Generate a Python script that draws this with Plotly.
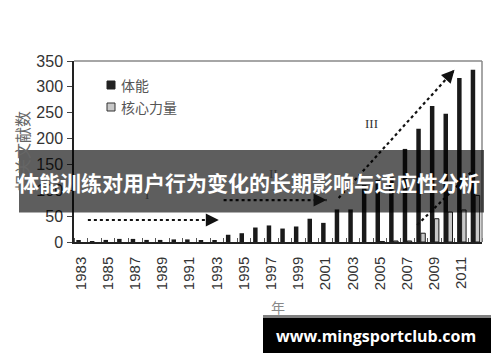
import plotly.graph_objects as go

# ---- data ----
years = list(range(1983, 2013))
tineng = [2, 1, 4, 6, 6, 4, 4, 5, 5, 3, 3, 14, 17, 28, 32, 26, 30, 45, 37, 63,
          63, 110, 120, 125, 180, 219, 263, 248, 317, 333]
hexin = [None] * 22 + [1, 2, 2, 17, 45, 58, 62, 90]
tick_years = list(range(1983, 2012, 2))
y_ticks = [0, 50, 100, 150, 200, 250, 300, 350]

# plot-area pixel geometry (for overlay placement)
L, R, T, B = 74, 482, 61, 242
W, H = R - L, B - T
def px(x):
    return (x - L) / W
def py(y):
    return (B - y) / H

fig = go.Figure()
fig.add_trace(go.Bar(x=years, y=tineng, name="体能",
                     marker=dict(color="#1a1a1a", line=dict(width=0))))
fig.add_trace(go.Bar(x=years, y=hexin, name="核心力量",
                     marker=dict(color="#c8c8c8", line=dict(color="#1a1a1a", width=1))))

fig.update_layout(
    width=500, height=362,
    margin=dict(l=L, r=500 - R, t=T, b=362 - B, autoexpand=False),
    paper_bgcolor="white", plot_bgcolor="white",
    barmode="group", bargap=0.34, bargroupgap=0,
    showlegend=False,
    font=dict(family="Liberation Sans, Arial", color="#333"),
)
fig.update_xaxes(
    range=[1982.5, 2012.5], tickmode="array", tickvals=tick_years,
    ticktext=[str(t) for t in tick_years], tickangle=-90,
    tickfont=dict(size=15, color="#333"), ticks="", showgrid=False,
    ticklabelstandoff=7,
    showline=True, linecolor="#222", linewidth=1.5, automargin=False,
    minor=dict(tick0=1982.5, dtick=1, ticks="inside", ticklen=4, tickcolor="#555"),
    zeroline=False,
)
fig.update_yaxes(
    range=[0, 350], tickvals=y_ticks, ticks="outside", ticklen=5, tickcolor="#444",
    tickfont=dict(size=16, color="#333"), showgrid=False, automargin=False,
    ticklabelstandoff=1,
    showline=True, linecolor="#222", linewidth=1.5, zeroline=False,
)

shapes = []
ann = []
# top/right frame
shapes.append(dict(type="line", xref="paper", yref="paper", x0=0, x1=1, y0=1, y1=1,
                   line=dict(color="#888", width=1.5)))
shapes.append(dict(type="line", xref="paper", yref="paper", x0=1, x1=1, y0=0, y1=1,
                   line=dict(color="#888", width=1.5)))

# legend (manual)
shapes.append(dict(type="rect", xref="paper", yref="paper",
                   x0=px(107), x1=px(115), y0=py(89), y1=py(81),
                   fillcolor="#222", line=dict(color="#222", width=1)))
shapes.append(dict(type="rect", xref="paper", yref="paper",
                   x0=px(107), x1=px(115), y0=py(111), y1=py(103),
                   fillcolor="#c8c8c8", line=dict(color="#333", width=1)))
ann.append(dict(x=px(119), y=py(85), xref="paper", yref="paper", text="体能",
                showarrow=False, xanchor="left", yanchor="middle",
                font=dict(family="Noto Sans CJK SC", size=14, color="#555")))
ann.append(dict(x=px(119), y=py(107), xref="paper", yref="paper", text="核心力量",
                showarrow=False, xanchor="left", yanchor="middle",
                font=dict(family="Noto Sans CJK SC", size=14, color="#555")))

# dotted trend arrows (data coords)
arrows = [
    ((1983.52, 42.5), (1993.15, 42.5)),
    ((1993.5, 81), (2001.07, 81)),
    ((2001.96, 85), (2010.48, 333)),
    ((2007.74, 33), (2011.9, 140)),
]
for (x0, y0), (x1, y1) in arrows:
    shapes.append(dict(type="line", xref="x", yref="y", x0=x0, y0=y0, x1=x1, y1=y1,
                       line=dict(color="#111", width=2.2, dash="dot")))
    ax = x1 - (x1 - x0) * 0.05
    ay = y1 - (y1 - y0) * 0.05
    ann.append(dict(x=x1, y=y1, ax=ax, ay=ay, xref="x", yref="y", axref="x", ayref="y",
                    text="", showarrow=True, arrowhead=2, arrowsize=1.3,
                    arrowwidth=2, arrowcolor="#111"))

for txt, x, y in [("I", 1987.9, 91), ("II", 1997.15, 133), ("III", 2004.4, 230)]:
    ann.append(dict(x=x, y=y, xref="x", yref="y", text=txt, showarrow=False,
                    xanchor="center", yanchor="middle",
                    font=dict(family="Liberation Serif", size=13, color="#333")))

# axis titles
ann.append(dict(x=px(22), y=py(151), xref="paper", yref="paper", text="相关文献数",
                textangle=-90, showarrow=False, xanchor="center", yanchor="middle",
                font=dict(family="Noto Sans CJK SC", size=16, color="#666")))
ann.append(dict(x=px(278), y=py(307), xref="paper", yref="paper", text="年",
                showarrow=False, xanchor="center", yanchor="middle",
                font=dict(family="Noto Sans CJK SC", size=14, color="#888")))

# banner overlay
shapes.append(dict(type="rect", xref="paper", yref="paper", layer="above",
                   x0=px(19), x1=px(484), y0=py(212.5), y1=py(150),
                   fillcolor="rgba(0,0,0,0.63)", line=dict(width=0)))
ann.append(dict(x=px(249), y=py(182), xref="paper", yref="paper",
                text="<b>体能训练对用户行为变化的长期影响与适应性分析</b>",
                showarrow=False, xanchor="center", yanchor="middle",
                font=dict(family="Noto Sans CJK SC", size=21, color="white")))

# watermark
shapes.append(dict(type="rect", xref="paper", yref="paper", layer="above",
                   x0=px(263), x1=px(491), y0=py(353), y1=py(315),
                   fillcolor="black", line=dict(width=0)))
shapes.append(dict(type="rect", xref="paper", yref="paper", layer="above",
                   x0=px(263), x1=px(491), y0=py(318), y1=py(315),
                   fillcolor="#808080", line=dict(width=0)))
ann.append(dict(x=px(376), y=py(336), xref="paper", yref="paper",
                text="<b>www.mingsportclub.com</b>", showarrow=False,
                xanchor="center", yanchor="middle",
                font=dict(family="Open Sans", size=16, color="white")))

fig.update_layout(shapes=shapes, annotations=ann)
fig.write_html("out.html", config={"displayModeBar": False},
               post_script="document.body.style.margin='0px';")
